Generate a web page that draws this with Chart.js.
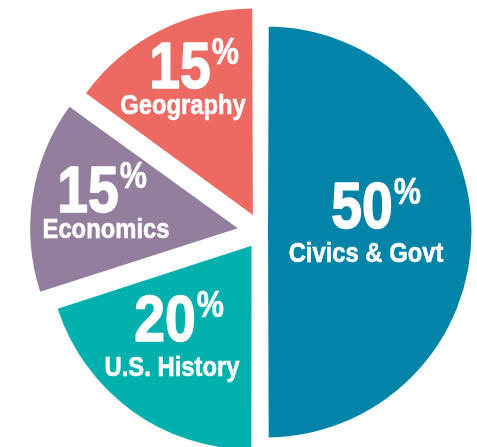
<!DOCTYPE html>
<html>
<head>
<meta charset="utf-8">
<script src="https://cdn.jsdelivr.net/npm/chart.js"></script>
<style>
  html, body { margin: 0; background: #fff; }
  #wrap { width: 477px; height: 447px; position: relative; }
</style>
</head>
<body>
<div id="wrap"><canvas id="pie"></canvas></div>
<script>
const subjects = ['Civics & Govt', 'U.S. History', 'Economics', 'Geography'];
const shares = [50, 20, 15, 15];
const sliceColors = ['#0284a9', '#02b1ad', '#937e9d', '#ec6a62'];
// exploded look: chart.js moves each arc offset/4 px along its middle angle
const sliceOffsets = [18, 68, 96, 76];

// hand placed labels: number centre + baseline, name centre + baseline
const labelSpots = [
  { nx: 362, ny: 228, lx: 366, ly: 262 },
  { nx: 165, ny: 341, lx: 172, ly: 376 },
  { nx: 88, ny: 212, lx: 106, ly: 238 },
  { nx: 180, ny: 88, lx: 183, ly: 114 }
];
const FONT = '"Liberation Sans", Arial, sans-serif';
const SQUEEZE = 0.85; // fake a condensed face

function squeezed(ctx, text, x, y, font, align, heavy) {
  ctx.save();
  ctx.font = font;
  ctx.textAlign = align;
  ctx.translate(x, y);
  ctx.scale(SQUEEZE, 1);
  ctx.fillText(text, 0, 0);
  if (heavy) {
    ctx.lineWidth = heavy;
    ctx.lineJoin = 'round';
    ctx.strokeText(text, 0, 0);
  }
  const w = ctx.measureText(text).width * SQUEEZE;
  ctx.restore();
  return w;
}

const labelPlugin = {
  id: 'sliceLabels',
  afterDraw(chart) {
    const ctx = chart.ctx;
    ctx.save();
    ctx.fillStyle = '#fff';
    ctx.strokeStyle = '#fff';
    ctx.textBaseline = 'alphabetic';
    shares.forEach((v, i) => {
      const s = labelSpots[i];
      const w = squeezed(ctx, String(v), s.nx, s.ny, 'bold 65px ' + FONT, 'center', 1.6);
      squeezed(ctx, '%', s.nx + w / 2 + 1, s.ny - 24, 'bold 36px ' + FONT, 'left', 0.6);
      squeezed(ctx, subjects[i], s.lx, s.ly, 'bold 28px ' + FONT, 'center', 0.6);
    });
    ctx.restore();
  }
};

new Chart(document.getElementById('pie'), {
  type: 'pie',
  data: {
    labels: subjects,
    datasets: [{
      data: shares,
      backgroundColor: sliceColors,
      offset: sliceOffsets,
      borderWidth: [4, 0, 0, 0],
      borderColor: '#fff',
      radius: 203
    }]
  },
  options: {
    responsive: true,
    maintainAspectRatio: false,
    animation: false,
    events: [],
    layout: { padding: { left: 46, top: 17 } },
    plugins: {
      legend: { display: false },
      tooltip: { enabled: false }
    }
  },
  plugins: [labelPlugin]
});
</script>
</body>
</html>
